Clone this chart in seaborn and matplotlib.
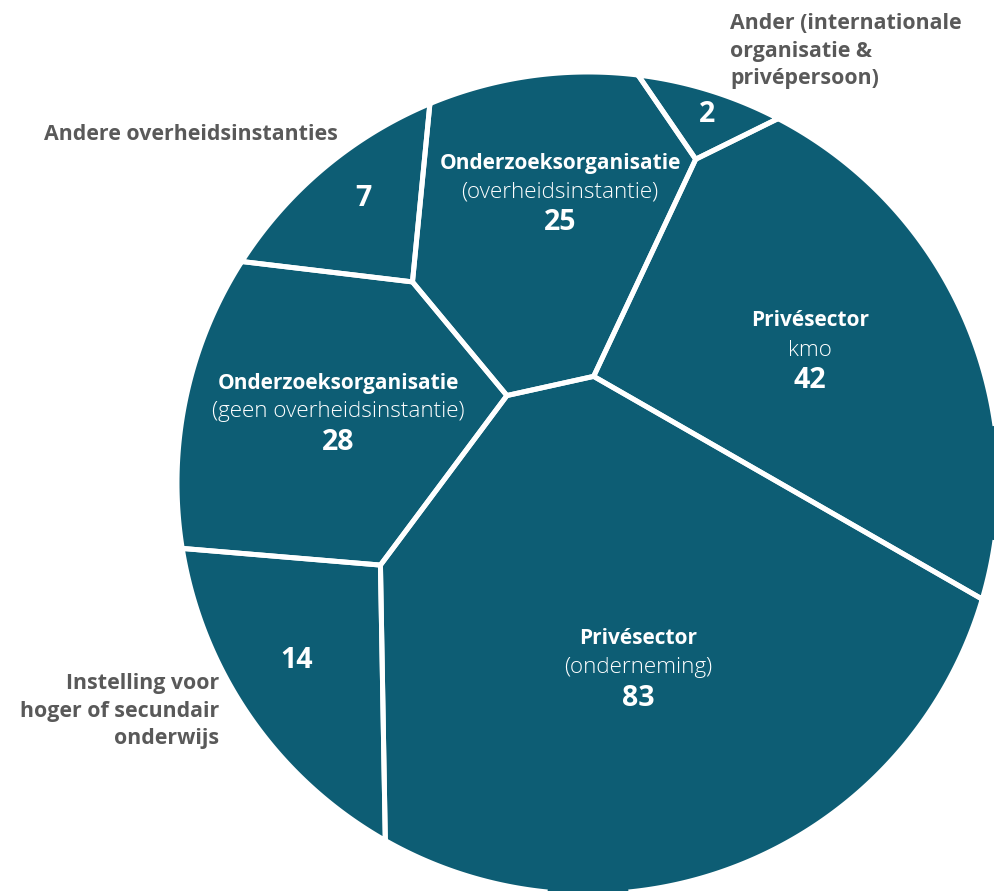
import numpy as np
import matplotlib
matplotlib.use("Agg")
import matplotlib.pyplot as plt
import seaborn as sns
from matplotlib.patches import Polygon

# ---------------- data ----------------
titles = ["Privésector", "Privésector", "Onderzoeksorganisatie",
          "Onderzoeksorganisatie", "Instelling voor\nhoger of secundair\nonderwijs",
          "Andere overheidsinstanties", "Ander (internationale\norganisatie &\nprivépersoon)"]
subtitles = ["(onderneming)", "kmo", "(geen overheidsinstantie)",
             "(overheidsinstantie)", "", "", ""]
values = [83, 42, 28, 25, 14, 7, 2]
inside_label = [True, True, True, True, False, False, False]

# ---------------- layout (pixel space) ----------------
W, H = 995, 891
CX, CY, R = 588.0, 483.0, 411.0
# generator sites of the power diagram (layout only)
sites = np.array([[653, 644], [825, 344], [334, 406], [559, 219],
                  [313.5, 650], [358.7, 199.4], [711.7, 114.4]], dtype=float)
# label anchors (middle line)
anchors = [(638, 668), (810, 350), (338, 412), (560, 192),
           (297, 660), (363, 198), (707, 115)]
TEAL = "#0d5d74"
GREY = "#595959"

sns.set_theme(style="white")
plt.rcParams["font.family"] = ["Open Sans", "DejaVu Sans"]

theta = np.linspace(0, 2 * np.pi, 1000, endpoint=False)
circle_poly = np.column_stack([CX + R * np.cos(theta), CY + R * np.sin(theta)])


def clip(poly, a, b):
    if len(poly) == 0:
        return poly
    out = []
    n = len(poly)
    f = poly @ a - b
    for k in range(n):
        P, Q = poly[k], poly[(k + 1) % n]
        fp, fq = f[k], f[(k + 1) % n]
        if fp <= 0:
            out.append(P)
        if fp * fq < 0:
            t = fp / (fp - fq)
            out.append(P + t * (Q - P))
    return np.array(out) if out else np.zeros((0, 2))


def cells(s, w):
    res = []
    for i in range(len(s)):
        poly = circle_poly.copy()
        for j in range(len(s)):
            if i == j:
                continue
            a = 2 * (s[j] - s[i])
            b = s[j] @ s[j] - s[i] @ s[i] - w[j] + w[i]
            poly = clip(poly, a, b)
        res.append(poly)
    return res


def area(p):
    if len(p) < 3:
        return 0.0
    x, y = p[:, 0], p[:, 1]
    return abs((x * np.roll(y, -1) - np.roll(x, -1) * y).sum()) / 2


def perim(p):
    if len(p) < 2:
        return 1.0
    return np.sum(np.hypot(*(np.roll(p, -1, axis=0) - p).T))


vals = np.array(values, dtype=float)
target = vals / vals.sum() * np.pi * R * R
wts = np.zeros(len(vals))
for it in range(800):
    polys = cells(sites, wts)
    areas = np.array([area(p) for p in polys])
    per = np.array([perim(p) for p in polys])
    wts += 0.5 * (target - areas) * 2 * 250 / per
    wts -= wts.mean()
polys = cells(sites, wts)

fig = plt.figure(figsize=(W / 100, H / 100), dpi=100)
ax = fig.add_axes([0, 0, 1, 1])
ax.set_xlim(0, W)
ax.set_ylim(H, 0)
ax.set_aspect("equal")
ax.axis("off")

for p in polys:
    ax.add_patch(Polygon(p, closed=True, fc=TEAL, ec="none", zorder=1))
for p in polys:
    ax.add_patch(Polygon(p, closed=True, fc="none", ec="white", lw=3.6,
                         joinstyle="round", zorder=2))

for i, (x, y) in enumerate(anchors):
    if inside_label[i]:
        ax.text(x, y - 29, titles[i], color="white", fontsize=15,
                fontweight="bold", ha="center", va="center", zorder=3)
        ax.text(x, y, subtitles[i], color="white", fontsize=16.2,
                fontweight="light", ha="center", va="center", zorder=3)
        ax.text(x, y + 31, str(values[i]), color="white", fontsize=20.5,
                fontweight="bold", ha="center", va="center", zorder=3)
    else:
        ax.text(x, y, str(values[i]), color="white", fontsize=20.5,
                fontweight="bold", ha="center", va="center", zorder=3)

# outside labels
ax.text(338, 135, titles[5], color=GREY, fontsize=15.4, fontweight="bold",
        ha="right", va="center")
ax.text(730, 51, titles[6], color=GREY, fontsize=15.4, fontweight="bold",
        ha="left", va="center", linespacing=1.42)
ax.text(219, 711, titles[4], color=GREY, fontsize=15.4, fontweight="bold",
        ha="right", va="center", linespacing=1.42, multialignment="right")

fig.savefig("out.png", dpi=100)
